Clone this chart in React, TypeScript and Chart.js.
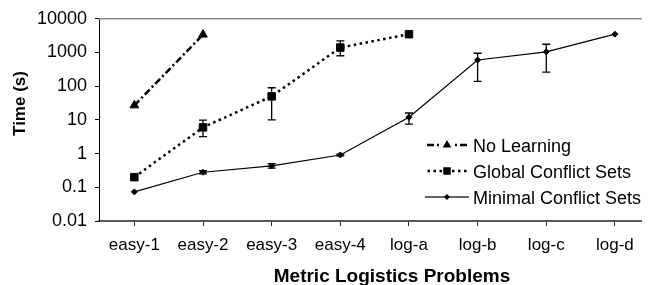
import React, { useEffect, useRef } from "react";
import { Chart, registerables } from "chart.js";

Chart.register(...registerables);

const FONT = '"Liberation Sans", Arial, Helvetica, sans-serif';

// ---- data ----
const categories = ["easy-1", "easy-2", "easy-3", "easy-4", "log-a", "log-b", "log-c", "log-d"];
const yTickValues = [0.01, 0.1, 1, 10, 100, 1000, 10000];
const yTickLabels = ["0.01", "0.1", "1", "10", "100", "1000", "10000"];

const seriesNames = ["No Learning", "Global Conflict Sets", "Minimal Conflict Sets"];

const noLearning = [27, 3400];
const globalSets = [0.2, 6, 50, 1400, 3500];
const minimalSets = [0.073, 0.28, 0.43, 0.91, 12, 600, 1050, 3500];

const globalErrLow = [null, 3.2, 10, 800, null];
const globalErrHigh = [null, 9.8, 90, 2200, null];
const minimalErrLow = [null, 0.25, 0.37, 0.86, 7.5, 140, 260, null];
const minimalErrHigh = [null, 0.31, 0.5, 0.97, 16, 950, 1760, null];

const toPoints = (vals: number[]) => vals.map((v, i) => ({ x: i, y: v }));

// ---- plugins ----
const plotBorderPlugin = {
  id: "plotBorder",
  beforeDatasetsDraw(chart: any) {
    const { ctx, chartArea } = chart;
    ctx.save();
    ctx.strokeStyle = "#8c8c8c";
    ctx.lineWidth = 1.5;
    ctx.beginPath();
    ctx.moveTo(chartArea.left, chartArea.top);
    ctx.lineTo(chartArea.right, chartArea.top);
    ctx.stroke();
    ctx.restore();
  },
};

const errorBarPlugin = {
  id: "errorBars",
  afterDatasetsDraw(chart: any) {
    const { ctx } = chart;
    const x = chart.scales.x;
    const y = chart.scales.y;
    chart.data.datasets.forEach((ds: any) => {
      const eb = ds.errorBars;
      if (!eb) return;
      ctx.save();
      ctx.strokeStyle = "#000";
      ctx.lineWidth = 1.3;
      ctx.setLineDash([]);
      eb.low.forEach((lo: number | null, i: number) => {
        const hi = eb.high[i];
        if (lo == null || hi == null) return;
        const px = x.getPixelForValue(i);
        const pl = y.getPixelForValue(lo);
        const ph = y.getPixelForValue(hi);
        ctx.beginPath();
        ctx.moveTo(px, pl);
        ctx.lineTo(px, ph);
        ctx.moveTo(px - 4, pl);
        ctx.lineTo(px + 4, pl);
        ctx.moveTo(px - 4, ph);
        ctx.lineTo(px + 4, ph);
        ctx.stroke();
      });
      ctx.restore();
    });
  },
};

function drawMarker(ctx: CanvasRenderingContext2D, style: string, cx: number, cy: number, r: number) {
  ctx.beginPath();
  if (style === "triangle") {
    ctx.moveTo(cx, cy - r);
    ctx.lineTo(cx + r * 0.866, cy + r * 0.5);
    ctx.lineTo(cx - r * 0.866, cy + r * 0.5);
  } else if (style === "rect") {
    const s = r * Math.SQRT1_2;
    ctx.rect(cx - s, cy - s, 2 * s, 2 * s);
  } else {
    ctx.moveTo(cx, cy - r);
    ctx.lineTo(cx + r, cy);
    ctx.lineTo(cx, cy + r);
    ctx.lineTo(cx - r, cy);
  }
  ctx.closePath();
  ctx.fill();
}

const customLegendPlugin = {
  id: "customLegend",
  afterDraw(chart: any) {
    const { ctx } = chart;
    const sampleStart = 425;
    const sampleLen = 44;
    const textX = 473;
    const rows = [145, 171, 197];
    ctx.save();
    chart.data.datasets.forEach((ds: any, i: number) => {
      const cy = rows[i];
      const cx = sampleStart + sampleLen / 2;
      const gap = ds.legendGap;
      ctx.strokeStyle = "#000";
      ctx.fillStyle = "#000";
      ctx.lineWidth = ds.borderWidth;
      ctx.setLineDash(ds.borderDash || []);
      ctx.lineDashOffset = ds.legendDashOffset || 0;
      ctx.beginPath();
      ctx.moveTo(cx - gap, cy);
      ctx.lineTo(sampleStart, cy);
      ctx.stroke();
      ctx.beginPath();
      ctx.moveTo(cx + gap, cy);
      ctx.lineTo(sampleStart + sampleLen, cy);
      ctx.stroke();
      ctx.setLineDash([]);
      drawMarker(ctx, ds.pointStyle, cx, cy, ds.pointRadius);
      ctx.font = `18px ${FONT}`;
      ctx.textAlign = "left";
      ctx.textBaseline = "alphabetic";
      ctx.fillText(ds.label, textX, cy + 6.6);
    });
    ctx.restore();
  },
};

const axisTitlesPlugin = {
  id: "axisTitles",
  afterDraw(chart: any) {
    const { ctx } = chart;
    ctx.save();
    ctx.fillStyle = "#000";
    ctx.textAlign = "center";
    ctx.textBaseline = "middle";
    ctx.font = `bold 19px ${FONT}`;
    ctx.fillText("Metric Logistics Problems", 392, 276.5);
    ctx.translate(20, 103.5);
    ctx.rotate(-Math.PI / 2);
    ctx.font = `bold 17px ${FONT}`;
    ctx.fillText("Time (s)", 0, 0);
    ctx.restore();
  },
};

export default function App() {
  const canvasRef = useRef<HTMLCanvasElement | null>(null);

  useEffect(() => {
    if (!canvasRef.current) return;
    const chart = new Chart(canvasRef.current, {
      type: "line",
      data: {
        datasets: [
          {
            label: seriesNames[0],
            data: toPoints(noLearning),
            borderColor: "#000",
            borderWidth: 2.5,
            borderDash: [7, 3, 2, 3],
            pointStyle: "triangle",
            pointRadius: 5,
            pointBackgroundColor: "#000",
            pointBorderColor: "#000",
            pointBorderWidth: 1,
            legendGap: 5,
            legendDashOffset: 7,
          } as any,
          {
            label: seriesNames[1],
            data: toPoints(globalSets),
            borderColor: "#000",
            borderWidth: 2.5,
            borderDash: [2.5, 3.5],
            pointStyle: "rect",
            pointRadius: 5.3,
            pointBackgroundColor: "#000",
            pointBorderColor: "#000",
            pointBorderWidth: 1,
            errorBars: { low: globalErrLow, high: globalErrHigh },
            legendGap: 5,
            legendDashOffset: 0,
          } as any,
          {
            label: seriesNames[2],
            data: toPoints(minimalSets),
            borderColor: "#000",
            borderWidth: 1.2,
            pointStyle: "rectRot",
            pointRadius: 3,
            pointBackgroundColor: "#000",
            pointBorderColor: "#000",
            pointBorderWidth: 1,
            errorBars: { low: minimalErrLow, high: minimalErrHigh },
            legendGap: 0,
          } as any,
        ],
      },
      options: {
        animation: false,
        responsive: true,
        maintainAspectRatio: false,
        devicePixelRatio: 1,
        layout: { padding: { top: 16, left: 0, right: 0, bottom: 0 } },
        plugins: {
          legend: { display: false },
          tooltip: { enabled: false },
        },
        elements: { line: { tension: 0 } },
        scales: {
          x: {
            type: "linear",
            min: -0.515,
            max: 7.39,
            afterBuildTicks: (s: any) => {
              s.ticks = categories.map((_, i) => ({ value: i }));
            },
            afterFit: (s: any) => {
              s.height = 64;
            },
            ticks: {
              callback: (v: any) => categories[v] ?? "",
              font: { size: 17, family: FONT },
              color: "#000",
              padding: 9,
              maxRotation: 0,
              autoSkip: false,
            },
            grid: { drawOnChartArea: false, drawTicks: true, tickLength: 5, color: "#222", lineWidth: 1 },
            border: { display: true, color: "#5a5a5a", width: 2 },
          },
          y: {
            type: "logarithmic",
            min: 0.01,
            max: 10000,
            afterBuildTicks: (s: any) => {
              s.ticks = yTickValues.map((v) => ({ value: v }));
            },
            afterFit: (s: any) => {
              s.width = 99;
            },
            ticks: {
              callback: (_v: any, i: number) => yTickLabels[i],
              font: { size: 18, family: FONT },
              color: "#000",
              padding: 8,
              autoSkip: false,
            },
            grid: { drawOnChartArea: false, drawTicks: true, tickLength: 4, color: "#000", lineWidth: 1 },
            border: { display: true, color: "#000", width: 1 },
          },
        },
      } as any,
      plugins: [plotBorderPlugin, errorBarPlugin, customLegendPlugin, axisTitlesPlugin],
    });
    return () => chart.destroy();
  }, []);

  return (
    <div style={{ position: "absolute", left: 0, top: 0, width: 648, height: 285, background: "#fff" }}>
      <canvas ref={canvasRef} />
    </div>
  );
}
